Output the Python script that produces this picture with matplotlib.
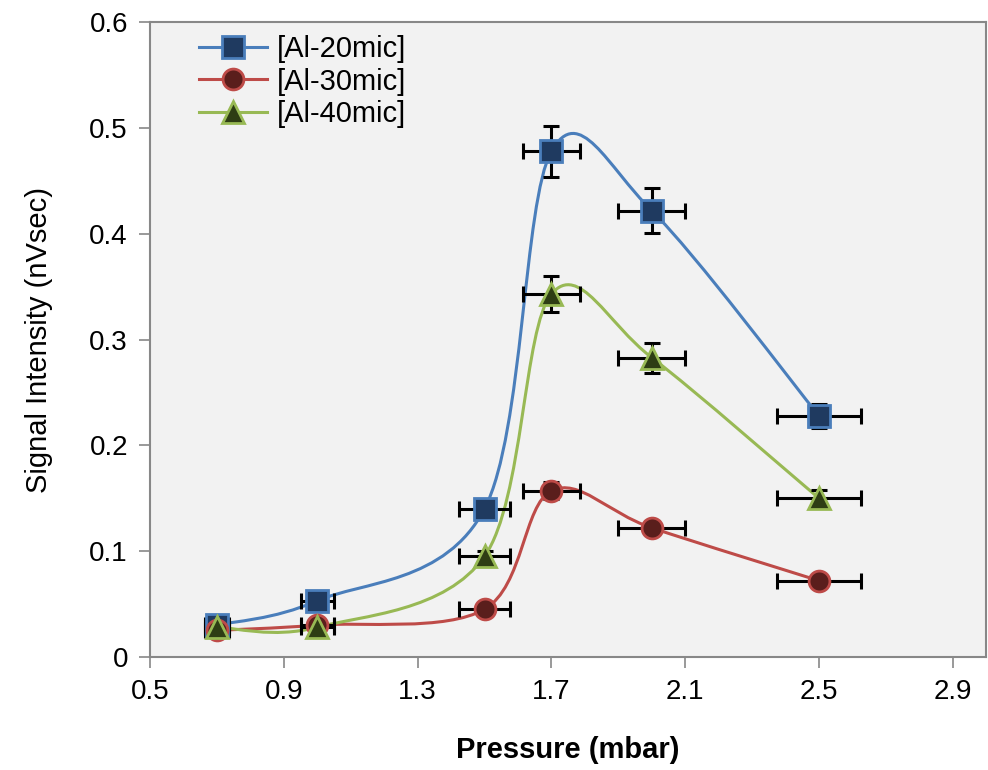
import matplotlib.pyplot as plt
import numpy as np
from matplotlib import font_manager
from matplotlib.path import Path
from matplotlib.patches import PathPatch
from matplotlib.lines import Line2D

pressure = [0.7, 1.0, 1.5, 1.7, 2.0, 2.5]
al20 = [0.030, 0.053, 0.140, 0.478, 0.422, 0.228]
al30 = [0.025, 0.030, 0.045, 0.157, 0.122, 0.072]
al40 = [0.028, 0.028, 0.095, 0.343, 0.283, 0.150]

# error bars (about 5 %)
x_err = [0.035, 0.050, 0.075, 0.085, 0.100, 0.125]
al20_err = [0.0015, 0.0027, 0.0070, 0.0239, 0.0211, 0.0114]
al30_err = [0.0013, 0.0015, 0.0023, 0.0079, 0.0061, 0.0036]
al40_err = [0.0014, 0.0014, 0.0048, 0.0172, 0.0142, 0.0075]

labels = ['[Al-20mic]', '[Al-30mic]', '[Al-40mic]']
line_colors = ['#4A7EBB', '#BE4B48', '#98B954']
face_colors = ['#1F3A60', '#5A1E1C', '#2E3D14']
markers = ['s', 'o', '^']
msizes = [16, 15, 16]

plt.rcParams['font.family'] = ['Liberation Sans', 'DejaVu Sans']
installed = {f.name for f in font_manager.fontManager.ttflist}
narrow = 'Liberation Sans Narrow' if 'Liberation Sans Narrow' in installed else 'Liberation Sans'


def smooth_path(xs, ys):
    # Excel-like smoothed line: cubic Bezier with Catmull-Rom control points
    pts = np.column_stack([xs, ys])
    n = len(pts)
    verts = [pts[0]]
    codes = [Path.MOVETO]
    for i in range(n - 1):
        p0 = pts[max(i - 1, 0)]
        p1 = pts[i]
        p2 = pts[i + 1]
        p3 = pts[min(i + 2, n - 1)]
        c1 = p1 + (p2 - p0) / 6
        c2 = p2 - (p3 - p1) / 6
        verts += [c1, c2, p2]
        codes += [Path.CURVE4] * 3
    return Path(verts, codes)


fig = plt.figure(figsize=(9.88, 7.7), dpi=100)
ax = fig.add_axes([0.152, 0.147, 0.846, 0.824])
ax.set_facecolor('#F2F2F2')

series = [al20, al30, al40]
errs = [al20_err, al30_err, al40_err]
handles = []
for k in range(3):
    patch = PathPatch(smooth_path(pressure, series[k]), facecolor='none',
                      edgecolor=line_colors[k], lw=2.2, zorder=2 + k * 0.1)
    ax.add_patch(patch)
for k in range(3):
    ax.errorbar(pressure, series[k], xerr=x_err, yerr=errs[k], fmt='none',
                ecolor='black', elinewidth=2.2, capsize=6, capthick=2.2, zorder=3)
for k in range(3):
    ax.plot(pressure, series[k], linestyle='none', marker=markers[k],
            markersize=msizes[k], markerfacecolor=face_colors[k],
            markeredgecolor=line_colors[k], markeredgewidth=2, zorder=4 + k)
    handles.append(Line2D([], [], color=line_colors[k], lw=2.2, marker=markers[k],
                          markersize=msizes[k], markerfacecolor=face_colors[k],
                          markeredgecolor=line_colors[k], markeredgewidth=2))

ax.set_xlim(0.5, 3.0)
ax.set_ylim(0, 0.6)
ax.set_xticks([0.5, 0.9, 1.3, 1.7, 2.1, 2.5, 2.9])
ax.set_yticks([0, 0.1, 0.2, 0.3, 0.4, 0.5, 0.6])
ax.set_yticklabels(['0', '0.1', '0.2', '0.3', '0.4', '0.5', '0.6'])
ax.tick_params(axis='both', labelsize=20, colors='#888888', labelcolor='black',
               length=8, width=1.2, direction='out')
ax.tick_params(axis='x', pad=8)
ax.tick_params(axis='y', pad=8)
for s in ax.spines.values():
    s.set_color('#888888')
    s.set_linewidth(1.5)

ax.set_xlabel('Pressure (mbar)', fontsize=21, fontweight='bold', labelpad=22)
ax.set_ylabel('Signal Intensity (nVsec)', fontsize=21, family=[narrow, 'DejaVu Sans'],
              labelpad=26)

ax.legend(handles, labels, loc='upper left', bbox_to_anchor=(0.045, 0.998),
          frameon=False, fontsize=21, handlelength=2.3, labelspacing=0.15,
          handletextpad=0.35, borderaxespad=0.0)

plt.savefig('out.png', dpi=100)
